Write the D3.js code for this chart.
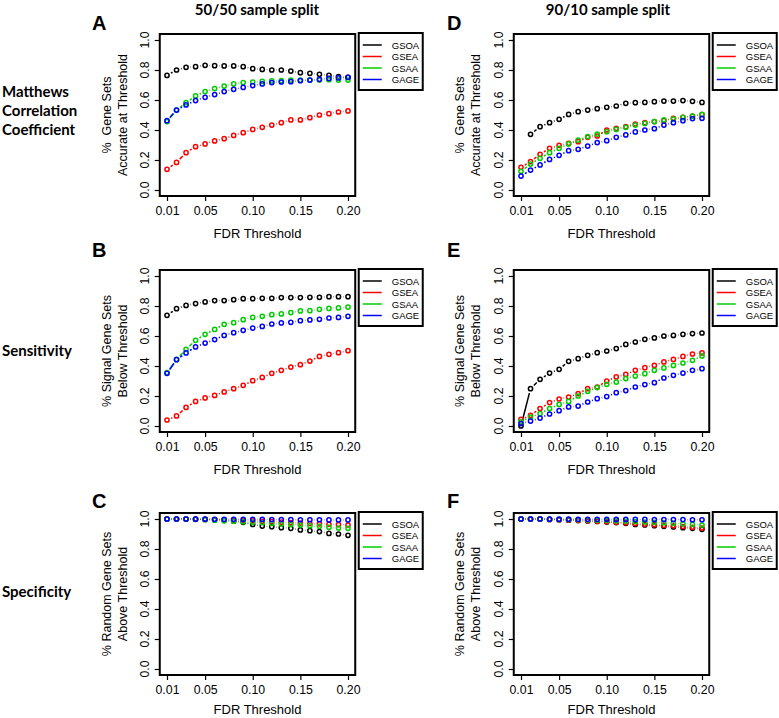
<!DOCTYPE html>
<html><head><meta charset="utf-8">
<script src="https://cdn.jsdelivr.net/npm/d3@7"></script>
<style>body{margin:0;background:#fff} svg{display:block}</style>
</head><body>
<svg id="chart" width="779" height="718"></svg>
<script>
// ---------------- data ----------------
const fdr = [0.01,0.02,0.03,0.04,0.05,0.06,0.07,0.08,0.09,0.10,0.11,0.12,0.13,0.14,0.15,0.16,0.17,0.18,0.19,0.20];
const seriesNames = ["GSOA","GSEA","GSAA","GAGE"];
const seriesColors = ["#000000","#FF0000","#00CD00","#0000FF"];
const xTicks = [0.01,0.05,0.10,0.15,0.20];
const xTickLabels = ["0.01","0.05","0.10","0.15","0.20"];
const yTicks = [0,0.2,0.4,0.6,0.8,1.0];
const yTickLabels = ["0.0","0.2","0.4","0.6","0.8","1.0"];
const columnTitles = ["50/50 sample split","90/10 sample split"];
const rowLabels = [["Matthews","Correlation","Coefficient"],["Sensitivity"],["Specificity"]];
const yTitles = [["%  Gene Sets","Accurate at Threshold"],["% Signal Gene Sets","Below Threshold"],["% Random Gene Sets","Above Threshold"]];
const xTitle = "FDR Threshold";
const panelLetters = [["A","D"],["B","E"],["C","F"]];

// Panel A: MCC, 50/50 split
const A_GSOA = [0.764,0.800,0.818,0.822,0.831,0.829,0.827,0.827,0.822,0.809,0.804,0.800,0.800,0.793,0.782,0.778,0.771,0.764,0.756,0.751];
const A_GSEA = [0.138,0.184,0.249,0.289,0.307,0.327,0.342,0.364,0.382,0.404,0.418,0.433,0.449,0.467,0.467,0.482,0.500,0.509,0.520,0.527];
const A_GSAA = [0.456,0.533,0.582,0.627,0.656,0.676,0.693,0.707,0.716,0.720,0.724,0.727,0.729,0.733,0.733,0.733,0.733,0.735,0.733,0.733];
const A_GAGE = [0.462,0.533,0.567,0.596,0.618,0.636,0.656,0.671,0.684,0.696,0.707,0.716,0.720,0.722,0.729,0.733,0.738,0.744,0.747,0.751];
// Panel B: Sensitivity, 50/50 split
const B_GSOA = [0.738,0.782,0.804,0.816,0.827,0.836,0.836,0.842,0.849,0.849,0.851,0.851,0.856,0.856,0.856,0.858,0.858,0.862,0.862,0.862];
const B_GSEA = [0.040,0.067,0.124,0.164,0.187,0.204,0.227,0.249,0.271,0.302,0.324,0.351,0.371,0.393,0.409,0.433,0.464,0.478,0.489,0.502];
const B_GSAA = [0.356,0.444,0.511,0.571,0.611,0.644,0.678,0.689,0.709,0.724,0.731,0.742,0.747,0.756,0.767,0.769,0.778,0.784,0.787,0.793];
const B_GAGE = [0.351,0.442,0.487,0.527,0.553,0.576,0.604,0.622,0.638,0.653,0.664,0.680,0.687,0.691,0.702,0.707,0.711,0.720,0.724,0.731];
// Panel C: Specificity, 50/50 split
const C_GSOA = [1.000,1.000,1.000,1.000,0.998,0.995,0.991,0.985,0.978,0.964,0.953,0.949,0.942,0.938,0.927,0.922,0.916,0.904,0.900,0.891];
const C_GSEA = [1.000,1.000,1.000,1.000,0.998,0.996,0.994,0.992,0.990,0.988,0.985,0.982,0.979,0.976,0.973,0.970,0.968,0.965,0.962,0.960];
const C_GSAA = [1.000,1.000,1.000,0.998,0.995,0.992,0.988,0.985,0.982,0.978,0.975,0.970,0.967,0.963,0.960,0.955,0.951,0.945,0.940,0.938];
const C_GAGE = [1.000,1.000,1.000,0.999,0.999,0.998,0.998,0.998,0.997,0.997,0.997,0.996,0.996,0.996,0.995,0.995,0.995,0.994,0.994,0.994];
// Panel D: MCC, 90/10 split
const D_GSOA = [null,0.371,0.422,0.449,0.471,0.504,0.522,0.533,0.542,0.551,0.560,0.578,0.582,0.584,0.589,0.593,0.593,0.596,0.591,0.584];
const D_GSEA = [0.151,0.189,0.238,0.278,0.298,0.311,0.322,0.351,0.360,0.400,0.411,0.422,0.440,0.449,0.456,0.462,0.478,0.484,0.493,0.502];
const D_GSAA = [0.125,0.173,0.211,0.249,0.278,0.307,0.333,0.356,0.373,0.389,0.404,0.418,0.433,0.444,0.456,0.467,0.473,0.484,0.493,0.504];
const D_GAGE = [0.093,0.133,0.167,0.204,0.231,0.262,0.271,0.293,0.316,0.329,0.351,0.367,0.387,0.400,0.409,0.433,0.449,0.462,0.476,0.478];
// Panel E: Sensitivity, 90/10 split
const E_GSOA = [0.000,0.249,0.311,0.353,0.378,0.431,0.449,0.471,0.489,0.500,0.516,0.544,0.560,0.578,0.587,0.600,0.604,0.611,0.616,0.620];
const E_GSEA = [0.044,0.071,0.116,0.156,0.180,0.193,0.216,0.249,0.260,0.300,0.327,0.344,0.371,0.389,0.404,0.427,0.444,0.464,0.480,0.487];
const E_GSAA = [0.030,0.060,0.082,0.116,0.144,0.164,0.200,0.231,0.256,0.278,0.293,0.316,0.333,0.349,0.371,0.387,0.404,0.420,0.438,0.467];
const E_GAGE = [0.016,0.033,0.053,0.080,0.102,0.127,0.133,0.160,0.182,0.196,0.222,0.236,0.260,0.276,0.289,0.320,0.338,0.353,0.371,0.382];
// Panel F: Specificity, 90/10 split
const F_GSOA = [1.000,1.000,1.000,0.997,0.995,0.992,0.990,0.987,0.984,0.980,0.976,0.971,0.964,0.960,0.955,0.951,0.947,0.942,0.938,0.931];
const F_GSEA = [1.000,1.000,1.000,0.997,0.995,0.993,0.990,0.988,0.985,0.982,0.979,0.975,0.970,0.966,0.962,0.958,0.955,0.950,0.945,0.940];
const F_GSAA = [1.000,1.000,1.000,0.998,0.997,0.996,0.995,0.994,0.992,0.990,0.988,0.986,0.983,0.980,0.978,0.975,0.972,0.968,0.965,0.960];
const F_GAGE = [1.000,1.000,1.000,0.999,0.999,0.999,0.998,0.998,0.998,0.998,0.997,0.997,0.997,0.997,0.996,0.996,0.996,0.996,0.995,0.995];

const panelData = [
  [[A_GSOA,A_GSEA,A_GSAA,A_GAGE],[D_GSOA,D_GSEA,D_GSAA,D_GAGE]],
  [[B_GSOA,B_GSEA,B_GSAA,B_GAGE],[E_GSOA,E_GSEA,E_GSAA,E_GAGE]],
  [[C_GSOA,C_GSEA,C_GSAA,C_GAGE],[F_GSOA,F_GSEA,F_GSAA,F_GAGE]]
];

// ---------------- layout ----------------
const svg = d3.select("#chart");
const axisFont = "'Liberation Sans', Arial, Helvetica, sans-serif";
const headFont = "Lato, 'Open Sans', sans-serif";
const colX = [[167,348],[521,702]];
const rowY = [[190,40],[426,276],[669,519]];
const colOffset = [0, 353];
const gap = 4.6;

svg.append("rect").attr("width",779).attr("height",718).attr("fill","#fff");

// column titles
const titleX = [257, 608];
columnTitles.forEach((t,i)=>{
  svg.append("text").attr("x",titleX[i]).attr("y",15).attr("text-anchor","middle")
    .attr("font-family",headFont).attr("font-weight",700).attr("font-size",15).text(t);
});
// row labels
const rowLabelY = [[97,116,135],[356],[597]];
rowLabels.forEach((lines,r)=>{
  lines.forEach((l,k)=>{
    svg.append("text").attr("x",2).attr("y",rowLabelY[r][k])
      .attr("font-family",headFont).attr("font-weight",700).attr("font-size",15).text(l);
  });
});

for (let r=0;r<3;r++){
  for (let c=0;c<2;c++){
    const x = d3.scaleLinear().domain([0.01,0.20]).range(colX[c]);
    const y = d3.scaleLinear().domain([0,1]).range(rowY[r]);
    const ex = (colX[c][1]-colX[c][0])*0.04;
    const ey = (rowY[r][0]-rowY[r][1])*0.04;
    const bx0 = colX[c][0]-ex, bx1 = colX[c][1]+ex;
    const by0 = rowY[r][1]-ey, by1 = rowY[r][0]+ey;
    const g = svg.append("g");

    // x axis
    const xa = g.append("g").attr("transform",`translate(0,${by1})`)
      .call(d3.axisBottom(x).tickValues(xTicks).tickFormat((d,i)=>xTickLabels[i]).tickSize(5).tickPadding(5));
    xa.select(".domain").remove();
    xa.selectAll("line").attr("stroke","#000").attr("stroke-width",1.2);
    xa.selectAll("text").attr("font-family",axisFont).attr("font-size",12.3).attr("fill","#000");
    // y axis (ticks via d3 axis, labels rotated like R's las=0)
    const ya = g.append("g").attr("transform",`translate(${bx0},0)`)
      .call(d3.axisLeft(y).tickValues(yTicks).tickFormat("").tickSize(5));
    ya.select(".domain").remove();
    ya.selectAll("line").attr("stroke","#000").attr("stroke-width",1.2);
    ya.selectAll(".tick text").remove();
    g.selectAll(null).data(yTicks).enter().append("text")
      .attr("transform",(d)=>`translate(${bx0-11},${y(d)}) rotate(-90)`)
      .attr("text-anchor","middle").attr("font-family",axisFont).attr("font-size",12.3)
      .text((d,i)=>yTickLabels[i]);

    // box
    g.append("rect").attr("x",bx0).attr("y",by0).attr("width",bx1-bx0).attr("height",by1-by0)
      .attr("fill","none").attr("stroke","#000").attr("stroke-width",2);

    // x title
    g.append("text").attr("x",(bx0+bx1)/2).attr("y",Math.min(by1+42,714)).attr("text-anchor","middle")
      .attr("font-family",axisFont).attr("font-size",13).text(xTitle);
    // y title (two lines)
    const yc = (by0+by1)/2;
    [111,127].forEach((bx,k)=>{
      g.append("text").attr("transform",`translate(${bx+colOffset[c]},${yc}) rotate(-90)`)
        .attr("text-anchor","middle").attr("font-family",axisFont).attr("font-size",12.5)
        .style("white-space","pre").text(yTitles[r][k]);
    });
    // panel letter
    const letterY = [30, 257, 508][r];
    g.append("text").attr("x",92+[0,355][c]).attr("y",letterY)
      .attr("font-family",axisFont).attr("font-weight",700).attr("font-size",20).text(panelLetters[r][c]);

    // series (type = "b")
    panelData[r][c].forEach((vals,s)=>{
      const col = seriesColors[s];
      const pts = fdr.map((f,i)=>vals[i]==null?null:[x(f),y(vals[i])]);
      for (let i=0;i<pts.length-1;i++){
        const p=pts[i], q=pts[i+1];
        if(!p||!q) continue;
        const dx=q[0]-p[0], dy=q[1]-p[1], d=Math.hypot(dx,dy);
        if (d<=2*gap) continue;
        const t=gap/d;
        g.append("line").attr("x1",p[0]+dx*t).attr("y1",p[1]+dy*t)
          .attr("x2",q[0]-dx*t).attr("y2",q[1]-dy*t)
          .attr("stroke",col).attr("stroke-width",1.5);
      }
      g.selectAll(null).data(pts.filter(p=>p)).enter().append("circle")
        .attr("cx",p=>p[0]).attr("cy",p=>p[1]).attr("r",2.1)
        .attr("fill","none").attr("stroke",col).attr("stroke-width",1.5);
    });

    // legend
    const lx = bx1+3.5, ly = by0-1;
    const lg = g.append("g").attr("transform",`translate(${lx},${ly})`);
    lg.append("rect").attr("width",64).attr("height",57).attr("fill","#fff")
      .attr("stroke","#000").attr("stroke-width",2);
    seriesNames.forEach((n,s)=>{
      const yy = 12 + s*11.5;
      lg.append("line").attr("x1",4).attr("x2",23).attr("y1",yy).attr("y2",yy)
        .attr("stroke",seriesColors[s]).attr("stroke-width",1.5);
      lg.append("text").attr("x",33).attr("y",yy+3.5).attr("font-family",axisFont)
        .attr("font-size",9.5).text(n);
    });
  }
}
</script>
</body></html>
